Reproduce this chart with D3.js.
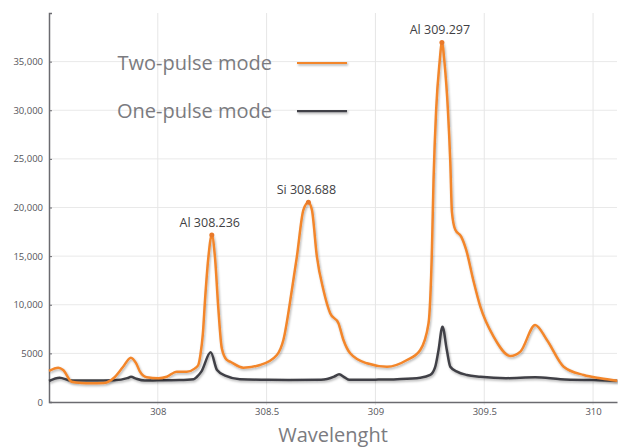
<!DOCTYPE html>
<html>
<head>
<meta charset="utf-8">
<script src="https://d3js.org/d3.v7.min.js"></script>
<style>
  body { margin: 0; background: #fff; }
  svg text { font-family: "Open Sans", sans-serif; }
</style>
</head>
<body>
<script>
// wavelength (nm) and intensity
let twoPulseX = [307.500, 307.543, 307.565, 307.604, 307.650, 307.690, 307.750, 307.796, 307.840, 307.876,
  307.900, 307.918, 307.949, 308.003, 308.041, 308.087, 308.133, 308.171, 308.186, 308.196,
  308.207, 308.217, 308.232, 308.248, 308.263, 308.278, 308.294, 308.317, 308.332, 308.393,
  308.470, 308.547, 308.577, 308.616, 308.639, 308.669, 308.692, 308.708, 308.731, 308.761,
  308.792, 308.830, 308.853, 308.884, 308.961, 309.053, 309.145, 309.206, 309.244, 309.260,
  309.267, 309.279, 309.2945, 309.3055, 309.3175, 309.333, 309.344, 309.3515, 309.367, 309.394,
  309.417, 309.450, 309.482, 309.543, 309.620, 309.666, 309.734, 309.788, 309.865, 309.957,
  310.033, 310.111];
let twoPulseY = [3190, 3530, 3300, 2090, 1950, 1920, 1950, 2440, 3600, 4560,
  4000, 3120, 2540, 2440, 2600, 3120, 3120, 3460, 3810, 4900,
  7000, 10500, 14790, 17180, 14790, 9640, 5530, 4320, 4150, 3530,
  3810, 4840, 6380, 11520, 14950, 19760, 20550, 19760, 14950, 11520,
  9130, 8100, 6380, 5010, 3980, 3630, 4320, 5350, 8100, 15980,
  22840, 30040, 34880, 36970, 34880, 30040, 24670, 19530, 17700, 17010,
  15640, 12500, 9800, 6720, 4730, 5180, 7920, 6380, 3630, 2780,
  2440, 2190];

let onePulseX = [307.500, 307.549, 307.600, 307.700, 307.800, 307.860, 307.877, 307.900, 307.940, 308.000,
  308.100, 308.165, 308.180, 308.200, 308.243, 308.272, 308.313, 308.377, 308.500, 308.600,
  308.750, 308.810, 308.833, 308.860, 308.880, 309.000, 309.100, 309.206, 309.252, 309.275,
  309.290, 309.308, 309.328, 309.344, 309.375, 309.420, 309.482, 309.600, 309.734, 309.850,
  310.000, 310.111];
let onePulseY = [2160, 2500, 2200, 2200, 2230, 2450, 2600, 2400, 2200, 2230,
  2260, 2350, 2600, 3120, 5110, 3290, 2680, 2340, 2290, 2270,
  2280, 2600, 2850, 2500, 2280, 2300, 2350, 2500, 2780, 3630,
  5350, 7750, 5350, 3630, 3120, 2780, 2600, 2450, 2540, 2350,
  2250, 2190];

let xTicks = [308, 308.5, 309, 309.5, 310];
let yTicks = [0, 5000, 10000, 15000, 20000, 25000, 30000, 35000];

let peakNames = ["Al 308.236", "Si 308.688", "Al 309.297"];
let peakX = [308.248, 308.692, 309.3055];
let peakY = [17180, 20550, 36970];

let seriesNames = ["Two-pulse mode", "One-pulse mode"];
let seriesColors = ["#f3862c", "#414146"];

let width = 618;
let height = 448;

let svg = d3.select("body").append("svg")
  .attr("width", width)
  .attr("height", height);

let x = d3.scaleLinear().domain([307.5, 310.11]).range([49, 617]);
let y = d3.scaleLinear().domain([0, 40000]).range([402, 13]);

// soft shadow under the lines (user space so flat lines keep it)
let filter = svg.append("defs").append("filter")
  .attr("id", "shadow")
  .attr("filterUnits", "userSpaceOnUse")
  .attr("x", 0).attr("y", 0)
  .attr("width", width).attr("height", height);
filter.append("feDropShadow")
  .attr("dx", 1).attr("dy", 1.5)
  .attr("stdDeviation", 1)
  .attr("flood-color", "#000")
  .attr("flood-opacity", 0.3);

// grid
svg.append("g").selectAll("line")
  .data(yTicks.filter(d => d > 0))
  .join("line")
  .attr("x1", 49).attr("x2", 617)
  .attr("y1", d => y(d)).attr("y2", d => y(d))
  .attr("stroke", "#e9e9e9").attr("stroke-width", 1);

svg.append("g").selectAll("line")
  .data(xTicks)
  .join("line")
  .attr("x1", d => x(d)).attr("x2", d => x(d))
  .attr("y1", 13).attr("y2", 405)
  .attr("stroke", "#e6e6e6").attr("stroke-width", 1);

// axes
let yAxis = svg.append("g")
  .attr("transform", "translate(49,0)")
  .call(d3.axisLeft(y).tickValues(yTicks).tickSize(-3).tickPadding(6)
    .tickFormat(d => d >= 10000 ? d3.format(",")(d) : d));
yAxis.select(".domain").attr("stroke", "#6b6b70").attr("stroke-width", 1.5);
yAxis.selectAll(".tick line").attr("stroke", "#6b6b70");
yAxis.selectAll(".tick text").attr("fill", "#55555a").style("font-size", "9.5px");

let xAxis = svg.append("g")
  .attr("transform", "translate(0,402)")
  .call(d3.axisBottom(x).tickValues(xTicks).tickSize(0).tickPadding(6)
    .tickFormat(d => d));
xAxis.select(".domain").attr("stroke", "#6b6b70").attr("stroke-width", 1.5);
xAxis.selectAll(".tick text").attr("fill", "#55555a").style("font-size", "9.5px");

svg.append("text")
  .attr("x", 333).attr("y", 442)
  .attr("text-anchor", "middle")
  .attr("fill", "#7b7b80")
  .style("font-size", "20px")
  .text("Wavelenght");

// lines
let line = d3.line()
  .x(d => x(d[0]))
  .y(d => y(d[1]))
  .curve(d3.curveMonotoneX);

svg.append("path")
  .datum(d3.zip(onePulseX, onePulseY))
  .attr("d", line)
  .attr("fill", "none")
  .attr("stroke", seriesColors[1])
  .attr("stroke-width", 2.5)
  .attr("filter", "url(#shadow)");

svg.append("path")
  .datum(d3.zip(twoPulseX, twoPulseY))
  .attr("d", line)
  .attr("fill", "none")
  .attr("stroke", seriesColors[0])
  .attr("stroke-width", 2.5)
  .attr("filter", "url(#shadow)");

// peak markers and labels
let peaks = d3.zip(peakNames, peakX, peakY);
svg.append("g").selectAll("circle")
  .data(peaks)
  .join("circle")
  .attr("cx", d => x(d[1]))
  .attr("cy", d => y(d[2]))
  .attr("r", 2.5)
  .attr("fill", "#e8792a");

svg.append("g").selectAll("text")
  .data(peaks)
  .join("text")
  .attr("x", d => x(d[1]) - 2)
  .attr("y", d => y(d[2]) - 8)
  .attr("text-anchor", "middle")
  .attr("fill", "#3f3f44")
  .style("font-size", "12.5px")
  .text(d => d[0]);

// legend
let legend = svg.append("g").selectAll("g")
  .data(seriesNames)
  .join("g")
  .attr("transform", (d, i) => `translate(0,${62.7 + i * 48})`);

legend.append("text")
  .attr("x", 272).attr("y", 7)
  .attr("text-anchor", "end")
  .attr("fill", "#7b7b80")
  .style("font-size", "20px")
  .text(d => d);

legend.append("line")
  .attr("x1", 297).attr("x2", 347)
  .attr("y1", 0).attr("y2", 0)
  .attr("stroke", (d, i) => seriesColors[i])
  .attr("stroke-width", (d, i) => i ? 3 : 2.5)
  .attr("filter", "url(#shadow)");
</script>
</body>
</html>
